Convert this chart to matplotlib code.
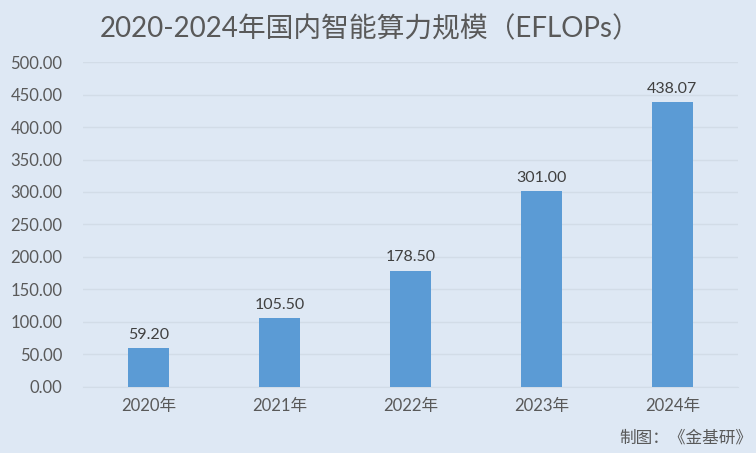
import matplotlib.pyplot as plt

plt.rcParams['font.family'] = ['Lato', 'Noto Sans CJK SC', 'DejaVu Sans']

years = ['2020年', '2021年', '2022年', '2023年', '2024年']
values = [59.20, 105.50, 178.50, 301.00, 438.07]
yticks = [0, 50, 100, 150, 200, 250, 300, 350, 400, 450, 500]

bg = '#dee8f4'
fig = plt.figure(figsize=(7.56, 4.53), dpi=100, facecolor=bg)
ax = fig.add_axes([0.110, 0.146, 0.866, 0.717], facecolor=bg)

x = range(len(years))
ax.bar(x, values, width=0.31, color='#5b9bd5', zorder=3)
for i, v in zip(x, values):
    ax.text(i, v + 10, '%.2f' % v, ha='center', va='bottom', fontsize=11.5, color='#404040')

ax.set_xlim(-0.5, len(years) - 0.5)
ax.set_ylim(0, 500)
ax.set_yticks(yticks)
ax.set_yticklabels(['%.2f' % t for t in yticks])
ax.set_xticks(list(x))
ax.set_xticklabels(years)
ax.tick_params(axis='both', length=0, labelsize=12, labelcolor='#595959')
ax.tick_params(axis='y', pad=15)
ax.tick_params(axis='x', pad=8)
ax.grid(axis='y', color='#d2dce7', linewidth=1, zorder=0)
for s in ['top', 'right', 'left']:
    ax.spines[s].set_visible(False)
ax.spines['bottom'].set_color('#d2dce7')

fig.text(0.49, 0.935, '2020-2024年国内智能算力规模（EFLOPs）', ha='center', va='center',
         fontsize=20, color='#595959')
fig.text(0.995, 0.033, '制图：《金基研》', ha='right', va='center', fontsize=12, color='#595959')

fig.savefig('out.png', dpi=100, facecolor=bg)
